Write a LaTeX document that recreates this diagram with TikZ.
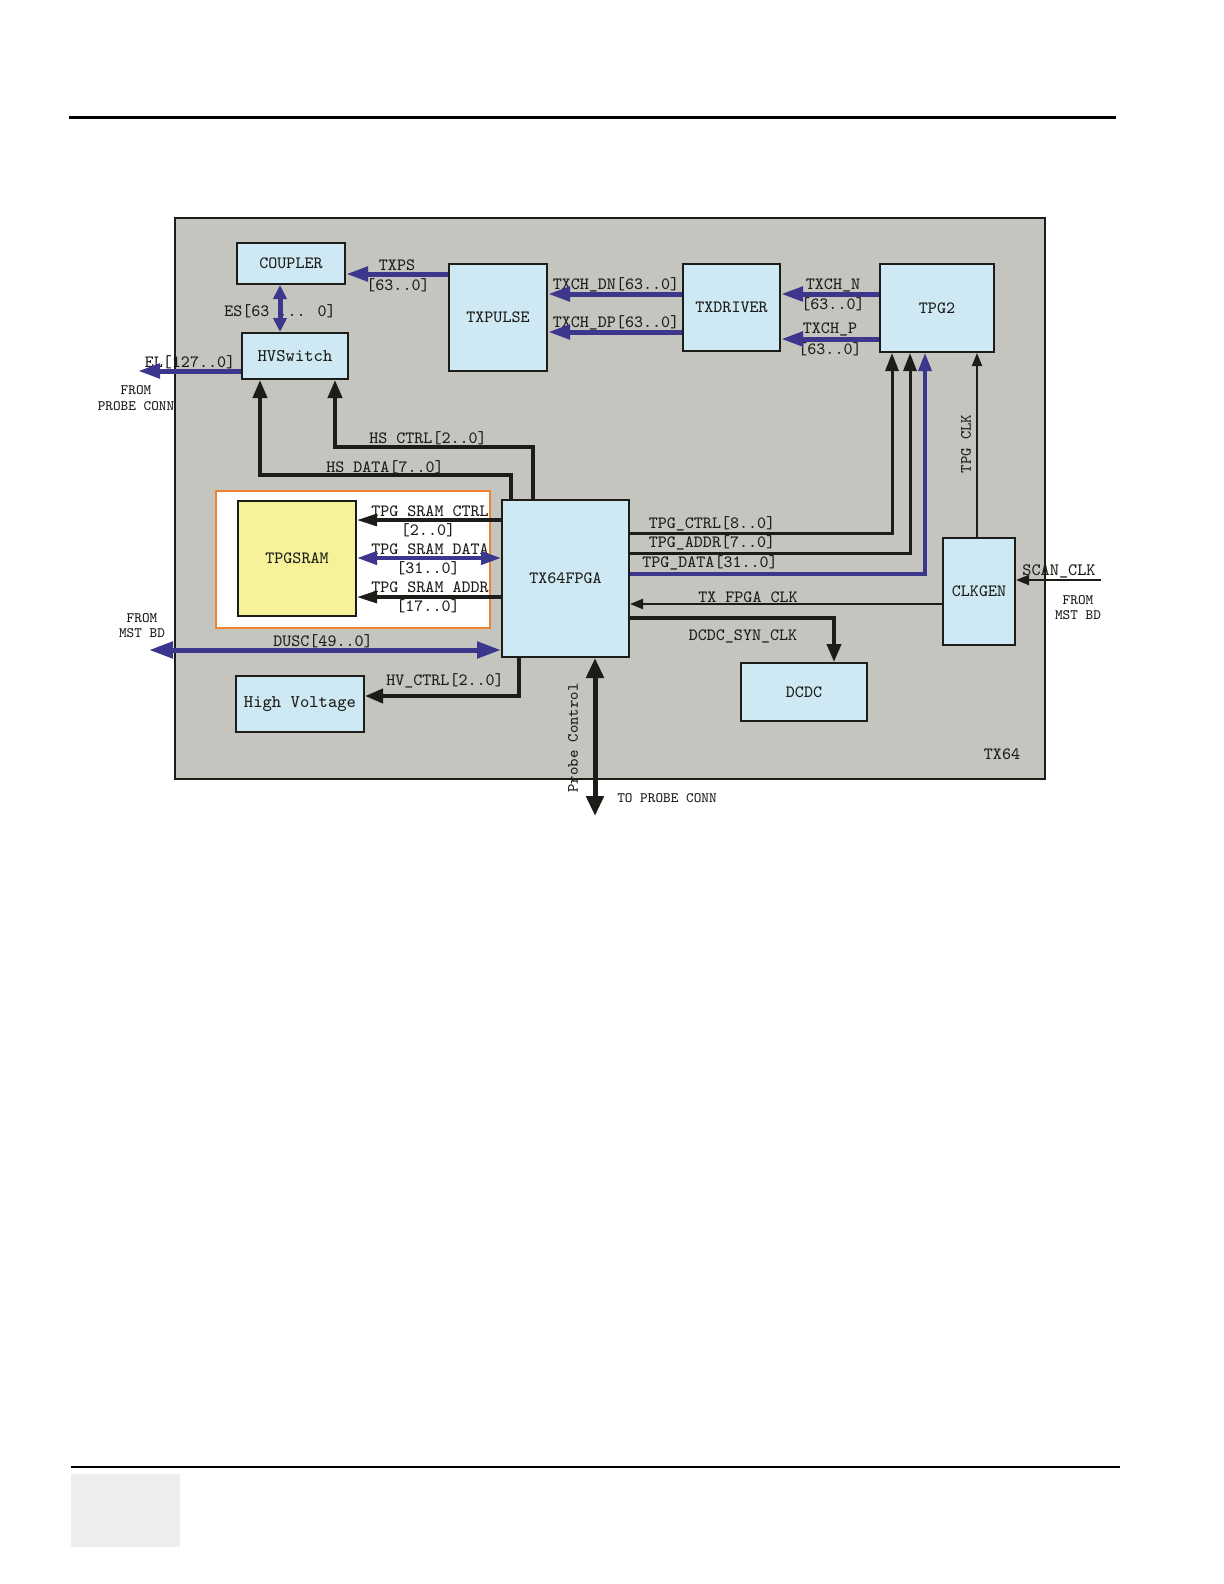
\documentclass[tikz,border=0pt]{standalone}
\usepackage{fontspec}
\newcommand\monof{\ttfamily}
\usetikzlibrary{arrows.meta}
\definecolor{framegray}{RGB}{196,197,191}
\definecolor{boxblue}{RGB}{206,233,243}
\definecolor{sramyellow}{RGB}{246,242,154}
\definecolor{frameorange}{RGB}{238,132,48}
\definecolor{sigblue}{RGB}{60,54,140}
\definecolor{ink}{RGB}{28,28,24}
\definecolor{footgray}{RGB}{238,238,238}
\begin{document}
\begin{tikzpicture}[x=0.5pt,y=-0.5pt,
 lbl/.style={font=\monof\fontsize{8.6}{9}\selectfont, inner sep=0, text=ink},
 small/.style={font=\monof\fontsize{7.2}{8}\selectfont, inner sep=0, text=ink},
 blk/.style={draw=ink, line width=1pt, fill=boxblue, inner sep=0, font=\monof\fontsize{8.6}{9}\selectfont, text=ink},
 thickarr/.style={draw=ink, line width=2pt, -{Triangle[length=9pt,width=7pt]}},
 medarr/.style={draw=ink, line width=1.5pt, -{Triangle[length=9pt,width=6.5pt]}},
 sramarr/.style={draw=ink, line width=1.6pt, -{Triangle[length=10pt,width=6pt]}},
 thinarr/.style={draw=ink, line width=1pt, -{Triangle[length=6.5pt,width=5pt]}},
 bluearr/.style={draw=sigblue, line width=2.5pt, -{Triangle[length=11pt,width=7pt]}},
]
\useasboundingbox (0,0) rectangle (1224,1584);
\fill[white] (0,0) rectangle (1224,1584);
% page rules
\draw[line width=1.5pt] (69,118) -- (1116,118);
\draw[line width=1pt] (71,1467) -- (1120,1467);
\fill[footgray] (71,1474) rectangle (180,1547);

% frames
\node[draw=ink, line width=1pt, fill=framegray, minimum width=435pt, minimum height=280.5pt, inner sep=0] (tx64frame) at (610,498.5) {};
\node[draw=frameorange, line width=1pt, fill=white, minimum width=137pt, minimum height=68.5pt, inner sep=0] (sramframe) at (353,559.5) {};

% boxes
\node[blk, minimum width=54pt, minimum height=20.5pt] (coupler) at (291,263.5) {COUPLER};
\node[blk, minimum width=49pt, minimum height=53.5pt] (txpulse) at (498,317.5) {TXPULSE};
\node[blk, minimum width=48.5pt, minimum height=43.5pt] (txdriver) at (731.5,307.5) {TXDRIVER};
\node[blk, minimum width=57pt, minimum height=44pt] (tpg2) at (937,308) {TPG2};
\node[blk, minimum width=53pt, minimum height=23pt, font=\monof\fontsize{8.9}{9}\selectfont] (hvswitch) at (295,356) {HVSwitch};
\node[blk, fill=sramyellow, minimum width=59pt, minimum height=57.5pt] (tpgsram) at (297,558.5) {TPGSRAM};
\node[blk, minimum width=63.5pt, minimum height=78.5pt] (fpga) at (565.5,578.5) {TX64FPGA};
\node[blk, minimum width=36pt, minimum height=53.5pt] (clkgen) at (979,591.5) {CLKGEN};
\node[blk, minimum width=63pt, minimum height=29pt] (dcdc) at (804,692) {DCDC};
\node[blk, minimum width=64pt, minimum height=28pt, font=\monof\fontsize{8.9}{9}\selectfont] (hv) at (300,704) {High Voltage};

% labels
\node[lbl] (ltxps) at (397,265) {TXPS};
\node[lbl] (ltxpsb) at (398,285) {[63..0]};
\node[lbl] (les) at (280,311) {ES[63 ... 0]};
\node[lbl] (lel) at (190,362) {EL[127..0]};
\node[small] (lfrom1) at (136,390) {FROM};
\node[small] (lprobe1) at (136,406) {PROBE CONN};
\node[lbl] (ldn) at (616,285) {TXCH\_DN[63..0]};
\node[lbl] (ldp) at (616,323) {TXCH\_DP[63..0]};
\node[lbl] (ln) at (833,285) {TXCH\_N};
\node[lbl] (lnb) at (833,304) {[63..0]};
\node[lbl] (lp) at (830,329) {TXCH\_P};
\node[lbl] (lpb) at (830,349) {[63..0]};
\node[lbl] (lhsc) at (428,438) {HS CTRL[2..0]};
\node[lbl] (lhsd) at (385,467) {HS DATA[7..0]};
\node[lbl] (lsc) at (430,511) {TPG SRAM CTRL};
\node[lbl] (lscb) at (428,530) {[2..0]};
\node[lbl] (lsd) at (430,549) {TPG SRAM DATA};
\node[lbl] (lsdb) at (428,568) {[31..0]};
\node[lbl] (lsa) at (430,587) {TPG SRAM ADDR};
\node[lbl] (lsab) at (428,606) {[17..0]};
\node[lbl] (ldusc) at (323,641) {DUSC[49..0]};
\node[small] (lfrom2) at (142,618) {FROM};
\node[small] (lmst2) at (142,633) {MST BD};
\node[lbl] (ltc) at (712,524) {TPG\_CTRL[8..0]};
\node[lbl] (lta) at (712,543) {TPG\_ADDR[7..0]};
\node[lbl] (ltd) at (710,563) {TPG\_DATA[31..0]};
\node[lbl] (ltfc) at (748,597) {TX FPGA CLK};
\node[lbl] (ldcdc) at (743,636) {DCDC\_SYN\_CLK};
\node[lbl, rotate=90, font=\monof\fontsize{7.9}{8}\selectfont] (ltpgclk) at (966,444) {TPG CLK};
\node[lbl, font=\monof\fontsize{8.7}{9}\selectfont] (lscan) at (1059,571) {SCAN\_CLK};
\node[small] (lfrom3) at (1078,600) {FROM};
\node[small] (lmst3) at (1078,615) {MST BD};
\node[lbl] (lhv) at (445,681) {HV\_CTRL[2..0]};
\node[lbl, rotate=90, font=\monof\fontsize{7.9}{8}\selectfont] (lprobectl) at (573,738) {Probe Control};
\node[small] (ltoprobe) at (667,798) {TO PROBE CONN};
\node[lbl] (ltx64) at (1002,754) {TX64};

% connectors
\coordinate (elend) at (138,371);
\coordinate (duscend) at (149,650);
\coordinate (scanstart) at (1101,580);
\coordinate (probeend) at (595,816);

\draw[bluearr] (txpulse.west |- 0,274) -- (coupler.east |- 0,274);
\draw[draw=sigblue, line width=2.5pt, {Triangle[length=7pt,width=6.5pt]}-{Triangle[length=7pt,width=6.5pt]}] (coupler.south -| 280,0) -- (hvswitch.north -| 280,0);
\draw[bluearr] (hvswitch.west |- 0,371) -- (elend);
\draw[bluearr] (txdriver.west |- 0,294) -- (txpulse.east |- 0,294);
\draw[bluearr] (txdriver.west |- 0,332) -- (txpulse.east |- 0,332);
\draw[bluearr] (tpg2.west |- 0,294) -- (txdriver.east |- 0,294);
\draw[bluearr] (tpg2.west |- 0,339) -- (txdriver.east |- 0,339);

\draw[thickarr] (fpga.north -| 511,0) |- (260,475) -- (hvswitch.south -| 260,0);
\draw[thickarr] (fpga.north -| 533,0) |- (335,447) -- (hvswitch.south -| 335,0);

\draw[sramarr] (fpga.west |- 0,520) -- (tpgsram.east |- 0,520);
\draw[draw=sigblue, line width=2pt, {Triangle[length=10pt,width=6.5pt]}-{Triangle[length=10pt,width=6.5pt]}] (tpgsram.east |- 0,558) -- (fpga.west |- 0,558);
\draw[sramarr] (fpga.west |- 0,597) -- (tpgsram.east |- 0,597);
\draw[draw=sigblue, line width=2.5pt, {Triangle[length=12pt,width=8pt]}-{Triangle[length=12pt,width=8pt]}] (duscend) -- (fpga.west |- 0,650);

\draw[medarr] (fpga.east |- 0,533) -| (tpg2.south -| 892,0);
\draw[medarr] (fpga.east |- 0,553) -| (tpg2.south -| 910,0);
\draw[draw=sigblue, line width=1.8pt, -{Triangle[length=9pt,width=6.5pt]}] (fpga.east |- 0,574) -| (tpg2.south -| 925,0);

\draw[thinarr] (clkgen.west |- 0,604) -- (fpga.east |- 0,604);
\draw[thickarr] (fpga.east |- 0,618) -| (dcdc.north -| 834,0);
\draw[thinarr] (clkgen.north -| 977,0) -- (tpg2.south -| 977,0);
\draw[thinarr] (scanstart) -- (clkgen.east |- 0,580);
\draw[thickarr] (fpga.south -| 519,0) |- (hv.east |- 0,696);
\draw[draw=ink, line width=2.5pt, {Triangle[length=10pt,width=8.5pt]}-{Triangle[length=10pt,width=8.5pt]}] (fpga.south -| 595,0) -- (probeend);
\end{tikzpicture}
\end{document}
